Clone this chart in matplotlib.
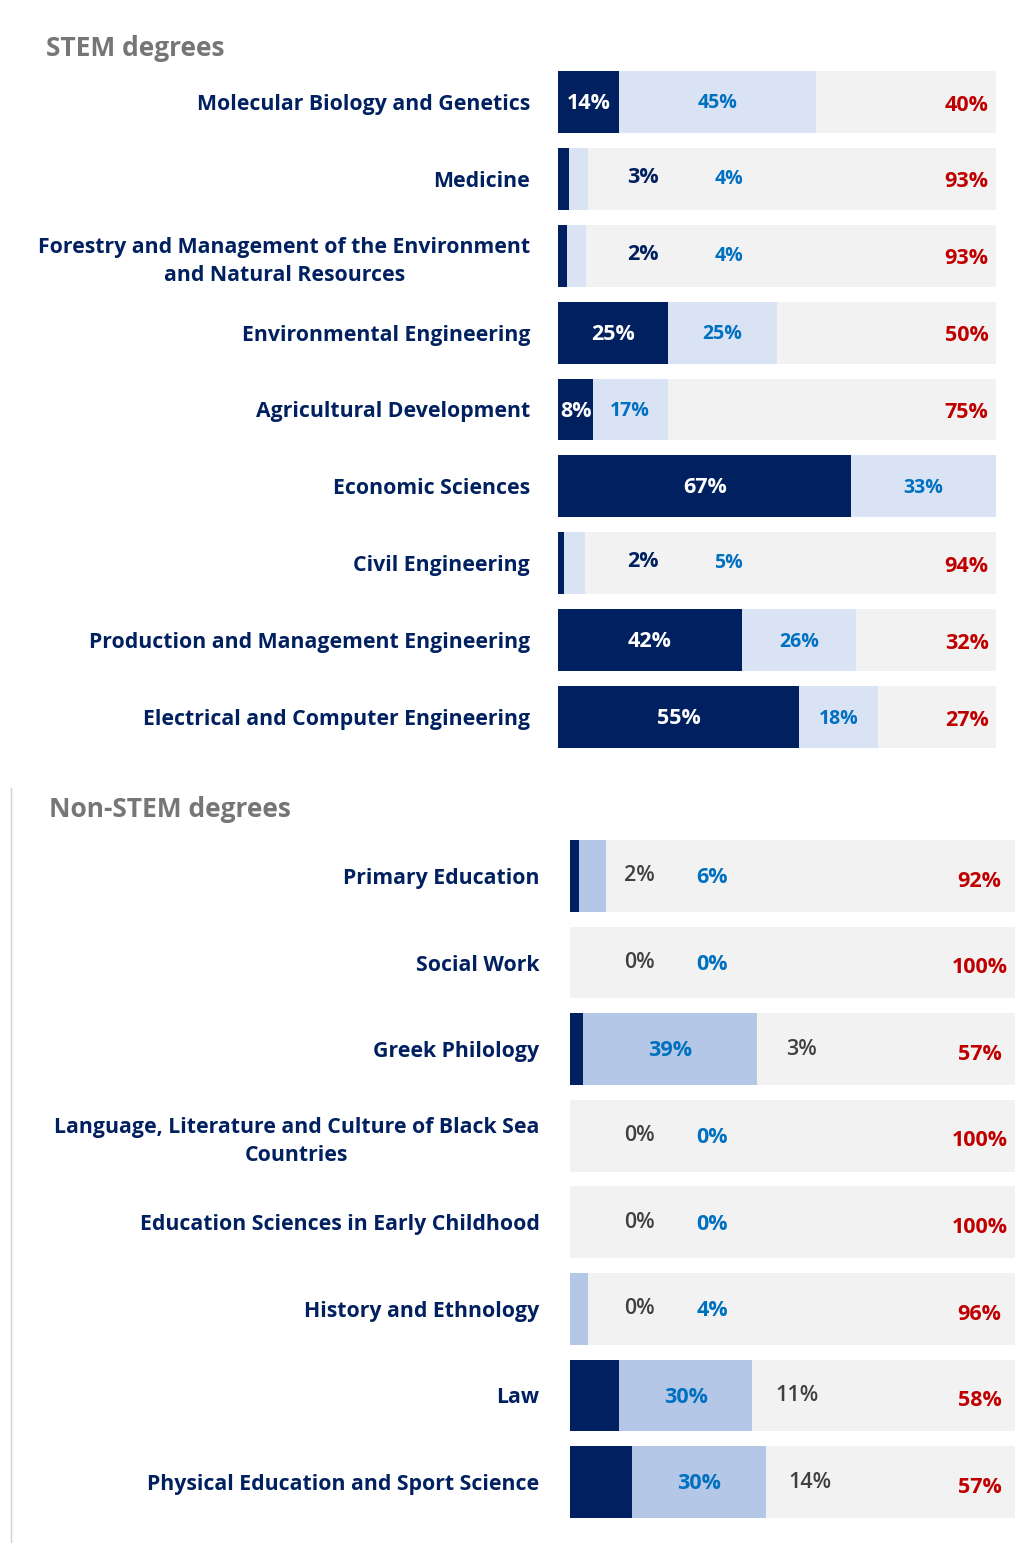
import matplotlib
matplotlib.use('Agg')
import matplotlib.pyplot as plt
import numpy as np

plt.rcParams['font.family'] = ['Open Sans', 'DejaVu Sans']

# STEM 数据
stem_names = ['Molecular Biology and Genetics', 'Medicine',
              'Forestry and Management of the Environment\nand Natural Resources',
              'Environmental Engineering', 'Agricultural Development', 'Economic Sciences',
              'Civil Engineering', 'Production and Management Engineering',
              'Electrical and Computer Engineering']
stem_dark = [14, 3, 2, 25, 8, 67, 2, 42, 55]
stem_light = [45, 4, 4, 25, 17, 33, 5, 26, 18]
stem_gray = [40, 93, 93, 50, 75, 0, 94, 32, 27]
# 实际条宽（百分比标签与条宽略有出入）
stem_dark_w = [14, 2.5, 2, 25, 8, 67, 1.4, 42, 55]
stem_light_w = [45, 4.3, 4.3, 25, 17, 33, 4.8, 26, 18]

# Non-STEM 数据
non_names = ['Primary Education', 'Social Work', 'Greek Philology',
             'Language, Literature and Culture of Black Sea\nCountries',
             'Education Sciences in Early Childhood', 'History and Ethnology', 'Law',
             'Physical Education and Sport Science']
non_dark = [2, 0, 3, 0, 0, 0, 11, 14]
non_light = [6, 0, 39, 0, 0, 4, 30, 30]
non_gray = [92, 100, 57, 100, 100, 96, 58, 57]

NAVY = '#002060'
BLUE_TXT = '#0070c0'
RED = '#c00000'
GRAY_BG = '#f2f2f2'
DARK_GRAY = '#404040'

fig = plt.figure(figsize=(10.26, 15.43), dpi=100)


def setup_axis(ax, names, pad):
    ax.set_xlim(0, 100)
    ax.set_ylim(len(names) - 0.5, -0.5)
    ax.set_yticks(np.arange(len(names)))
    ax.set_yticklabels(names, fontsize=15.3, fontweight='bold', color=NAVY,
                       ha='right', multialignment='center', linespacing=1.4)
    ax.tick_params(axis='y', length=0, pad=pad)
    ax.set_xticks([])
    for s in ax.spines.values():
        s.set_visible(False)


# ---- STEM ----
ax1 = fig.add_axes([558 / 1026, 1 - 755.5 / 1543, 438 / 1026, 692 / 1543])
y1 = np.arange(len(stem_names))
h1 = 0.805
ax1.barh(y1, 100, height=h1, color=GRAY_BG)
ax1.barh(y1, stem_dark_w, height=h1, color=NAVY)
ax1.barh(y1, stem_light_w, left=stem_dark_w, height=h1, color='#dae3f3')
setup_axis(ax1, stem_names, 20)

for i in range(len(stem_names)):
    d, l, g = stem_dark[i], stem_light[i], stem_gray[i]
    dw, lw = stem_dark_w[i], stem_light_w[i]
    kw = dict(va='center', ha='center', fontsize=15.5, fontweight='bold')
    bkw = dict(va='center', ha='center', fontsize=14, fontweight='bold', color=BLUE_TXT)
    if dw >= 7:
        ax1.text(dw / 2, i + 0.02, f'{d}%', color='white', **kw)
        ax1.text(dw + lw / 2, i + 0.02, f'{l}%', **bkw)
    else:
        ax1.text(19.5, i - 0.02, f'{d}%', color=NAVY, **kw)
        ax1.text(39, i, f'{l}%', **bkw)
    if g > 0:
        ax1.text(93.3, i + 0.04, f'{g}%', color=RED, **kw)

fig.text(46 / 1026, 1 - 48 / 1543, 'STEM degrees', fontsize=19, fontweight='bold',
         color='#767676', va='center', ha='left')

# ---- Non-STEM ----
ax2 = fig.add_axes([570 / 1026, 1 - 1525.3 / 1543, 445 / 1026, 692.6 / 1543])
y2 = np.arange(len(non_names))
h2 = 0.83
ax2.barh(y2, 100, height=h2, color=GRAY_BG)
ax2.barh(y2, non_dark, height=h2, color=NAVY)
ax2.barh(y2, non_light, left=non_dark, height=h2, color='#b4c7e7')
setup_axis(ax2, non_names, 22)

for i in range(len(non_names)):
    d, l, g = non_dark[i], non_light[i], non_gray[i]
    kw = dict(va='center', ha='center', fontsize=15.5, fontweight='bold')
    gkw = dict(va='center', ha='center', fontsize=15.5, fontweight='semibold', color=DARK_GRAY)
    if l >= 15:
        ax2.text(d + l / 2, i + 0.02, f'{l}%', color=BLUE_TXT, **kw)
        ax2.text(d + l + 10, i, f'{d}%', **gkw)
    else:
        ax2.text(15.5, i, f'{d}%', **gkw)
        ax2.text(32, i + 0.02, f'{l}%', color=BLUE_TXT, **kw)
    ax2.text(92, i + 0.06, f'{g}%', color=RED, **kw)

fig.text(49 / 1026, 1 - 810 / 1543, 'Non-STEM degrees', fontsize=19, fontweight='bold',
         color='#767676', va='center', ha='left')

# 左侧细竖线
fig.add_artist(plt.Line2D([11 / 1026, 11 / 1026], [0, 1 - 788 / 1543],
                          color='#d0d0d0', linewidth=1))

fig.savefig('out.png', dpi=100)
